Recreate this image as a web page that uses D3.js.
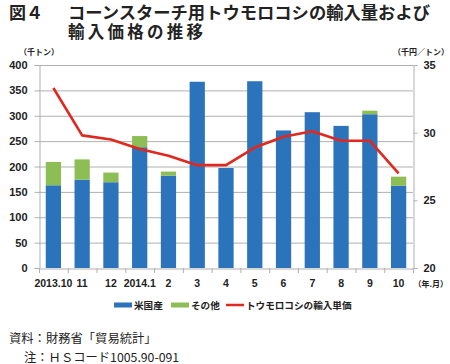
<!DOCTYPE html>
<html><head><meta charset="utf-8">
<script src="https://cdn.jsdelivr.net/npm/d3@7"></script>
<style>
body{margin:0;background:#fff;}
svg{display:block;font-family:"Noto Sans CJK JP","Noto Sans",sans-serif;}
</style></head>
<body>
<svg id="chart" width="450" height="364"></svg>
<script>
const categories = ["2013.10","11","12","2014.1","2","3","4","5","6","7","8","9","10"];
const usValues    = [163,174,169,238,182,367,197,368,271,307,280,303,162];
const otherValues = [46,40,19,22,8,0,0,0,0,0,0,7,18];
const priceValues = [33.3,29.8,29.5,28.8,28.3,27.6,27.6,28.9,29.7,30.1,29.4,29.4,27.0];
const leftTicks = [0,50,100,150,200,250,300,350,400];
const rightTicks = [20,25,30,35];
const legendLabels = ["米国産","その他","トウモロコシの輸入単価"];

const colors = {us:"#2b73ba", other:"#8dbd55", price:"#e0281e", grid:"#b0b0b0"};
const svg = d3.select("#chart");
const L = 39, R = 413, T = 65, B = 268;

const x = d3.scaleBand().domain(categories).range([L,R]).paddingInner(0.47).paddingOuter(0.235);
const xb = d3.scaleBand().domain(categories).range([L,R]).padding(0);
const yL = d3.scaleLinear().domain([0,400]).range([B,T]);
const yR = d3.scaleLinear().domain([20,35]).range([B,T]);

// gridlines
svg.append("g").selectAll("line").data(leftTicks.filter(d=>d>0)).join("line")
  .attr("x1",L).attr("x2",R).attr("y1",d=>yL(d)+0.5).attr("y2",d=>yL(d)+0.5)
  .attr("stroke",colors.grid).attr("stroke-width",1);

// bars
const stacks = categories.map((c,i)=>({c, us:usValues[i], other:otherValues[i]}));
svg.append("g").selectAll("rect").data(stacks).join("rect")
  .attr("x",d=>x(d.c)).attr("width",x.bandwidth())
  .attr("y",d=>yL(d.us)).attr("height",d=>yL(0)-yL(d.us))
  .attr("fill",colors.us);
svg.append("g").selectAll("rect").data(stacks.filter(d=>d.other>0)).join("rect")
  .attr("x",d=>x(d.c)).attr("width",x.bandwidth())
  .attr("y",d=>yL(d.us+d.other)).attr("height",d=>yL(d.us)-yL(d.us+d.other))
  .attr("fill",colors.other);

// left axis
const gL = svg.append("g").attr("transform",`translate(${L+0.5},0)`)
  .call(d3.axisLeft(yL).tickValues(leftTicks).tickSize(5).tickPadding(7));
gL.select(".domain").attr("stroke",colors.grid);
gL.selectAll(".tick line").attr("stroke",colors.grid);
gL.selectAll("text").attr("font-size",11).attr("font-weight","bold").attr("fill","#222");

// right axis
const gR = svg.append("g").attr("transform",`translate(${R+0.5},0)`)
  .call(d3.axisRight(yR).tickValues(rightTicks).tickSize(4).tickPadding(6));
gR.select(".domain").attr("stroke",colors.grid);
gR.selectAll(".tick line").attr("stroke",colors.grid);
gR.selectAll("text").attr("font-size",11).attr("font-weight","bold").attr("fill","#222");

// bottom axis
const gB = svg.append("g").attr("transform",`translate(0,${B+0.5})`)
  .call(d3.axisBottom(x).tickSize(0).tickPadding(11));
gB.select(".domain").attr("stroke",colors.grid);
gB.selectAll("text").attr("font-size",10.5).attr("font-weight","bold").attr("fill","#222");
svg.append("g").selectAll("line").data(categories.concat(["end"])).join("line")
  .attr("x1",(d,i)=>L+i*xb.step()+0.5).attr("x2",(d,i)=>L+i*xb.step()+0.5)
  .attr("y1",B).attr("y2",B+5).attr("stroke",colors.grid);

// price line
const line = d3.line().x((d,i)=>x(categories[i])+x.bandwidth()/2).y(d=>yR(d));
svg.append("path").datum(priceValues).attr("d",line)
  .attr("fill","none").attr("stroke",colors.price).attr("stroke-width",2.6).attr("stroke-linejoin","round");

// units
svg.append("text").attr("x",19).attr("y",55).attr("font-size",8).attr("font-weight","bold").attr("fill","#222").text("（千トン）");
svg.append("text").attr("x",449).attr("y",55).attr("text-anchor","end").attr("font-size",8).attr("font-weight","bold").attr("fill","#222").text("（千円／トン）");
svg.append("text").attr("x",448).attr("y",287).attr("text-anchor","end").attr("font-size",8).attr("font-weight","bold").attr("fill","#222").text("（年.月）");

// title
svg.append("text").attr("x",9).attr("y",19).attr("font-size",16.5).attr("font-weight","bold").attr("fill","#222")
  .attr("textLength",34).attr("lengthAdjust","spacingAndGlyphs").text("図４");
svg.append("text").attr("x",68).attr("y",19).attr("font-size",16.5).attr("font-weight","bold").attr("fill","#222")
  .attr("textLength",362).attr("lengthAdjust","spacingAndGlyphs").text("コーンスターチ用トウモロコシの輸入量および");
svg.append("text").attr("x",68).attr("y",38).attr("font-size",16.5).attr("font-weight","bold").attr("fill","#222")
  .attr("textLength",135).attr("lengthAdjust","spacing").text("輸入価格の推移");

// legend
const leg = [
  {label:legendLabels[0], color:colors.us, x:114, w:18, h:5},
  {label:legendLabels[1], color:colors.other, x:171, w:18, h:5},
  {label:legendLabels[2], color:colors.price, x:226, w:18, h:2.5}
];
const gLeg = svg.append("g");
leg.forEach(d=>{
  gLeg.append("rect").attr("x",d.x).attr("y",305-d.h/2).attr("width",d.w).attr("height",d.h).attr("fill",d.color);
  gLeg.append("text").attr("x",d.x+d.w+2).attr("y",308.5).attr("font-size",9.6).attr("font-weight","bold").attr("fill","#222").text(d.label);
});

// source notes
svg.append("text").attr("x",9).attr("y",343).attr("font-size",12.3).attr("fill","#222").text("資料：財務省「貿易統計」");
svg.append("text").attr("x",24).attr("y",361.5).attr("font-size",12.3).attr("fill","#222").text("注：ＨＳコード1005.90-091");
</script>
</body></html>
